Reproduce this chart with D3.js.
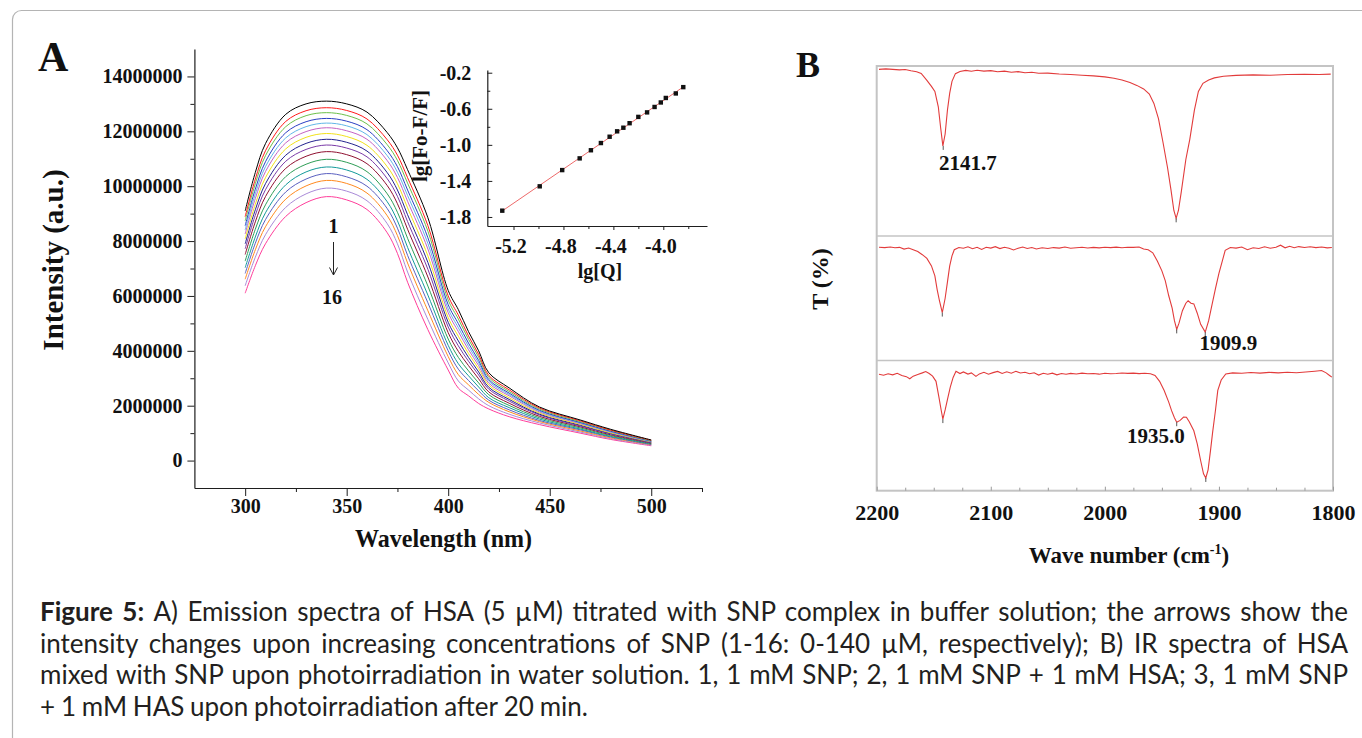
<!DOCTYPE html>
<html>
<head>
<meta charset="utf-8">
<script src="https://cdn.jsdelivr.net/npm/d3@7"></script>
<style>
  body { margin: 0; background: #fff; }
  svg { display: block; }
</style>
</head>
<body>
<svg id="fig" width="1362" height="738"></svg>
<script>

// ---- Panel A data: emission spectra (intensity in 10^6 a.u.)
const wavelengths = [300, 305, 310, 320, 330, 340, 350, 360, 370, 375, 380, 390, 400, 405, 410, 415, 420, 430, 445, 465, 480, 500];
const emission = [
    [9.1, 10.5, 11.55, 12.62, 13.0, 13.1, 13.0, 12.7, 11.95, 11.4, 10.6, 8.85, 6.2, 5.5, 4.7, 4.0, 3.2, 2.65, 1.95, 1.48, 1.14, 0.75],
    [8.89, 10.26, 11.29, 12.36, 12.75, 12.86, 12.76, 12.45, 11.69, 11.13, 10.31, 8.56, 6.0, 5.3, 4.54, 3.87, 3.1, 2.58, 1.91, 1.45, 1.11, 0.74],
    [8.74, 10.09, 11.11, 12.17, 12.57, 12.68, 12.58, 12.27, 11.51, 10.94, 10.11, 8.36, 5.85, 5.16, 4.42, 3.77, 3.03, 2.52, 1.87, 1.42, 1.1, 0.72],
    [8.56, 9.89, 10.89, 11.95, 12.35, 12.47, 12.37, 12.06, 11.29, 10.71, 9.86, 8.12, 5.68, 4.99, 4.28, 3.65, 2.95, 2.46, 1.83, 1.39, 1.07, 0.71],
    [8.41, 9.72, 10.71, 11.76, 12.17, 12.3, 12.2, 11.88, 11.11, 10.51, 9.66, 7.91, 5.53, 4.84, 4.16, 3.56, 2.89, 2.41, 1.80, 1.37, 1.05, 0.70],
    [8.26, 9.55, 10.53, 11.58, 11.99, 12.13, 12.02, 11.71, 10.93, 10.32, 9.45, 7.71, 5.39, 4.70, 4.04, 3.46, 2.82, 2.36, 1.77, 1.35, 1.04, 0.69],
    [8.08, 9.34, 10.31, 11.36, 11.78, 11.92, 11.81, 11.49, 10.71, 10.09, 9.21, 7.46, 5.21, 4.53, 3.90, 3.35, 2.75, 2.29, 1.73, 1.32, 1.01, 0.68],
    [7.9, 9.14, 10.09, 11.13, 11.56, 11.71, 11.6, 11.28, 10.49, 9.86, 8.96, 7.22, 5.04, 4.36, 3.76, 3.23, 2.67, 2.23, 1.69, 1.29, 0.99, 0.67],
    [7.72, 8.94, 9.87, 10.91, 11.34, 11.5, 11.39, 11.07, 10.27, 9.63, 8.71, 6.97, 4.87, 4.18, 3.62, 3.12, 2.6, 2.17, 1.66, 1.26, 0.97, 0.65],
    [7.51, 8.7, 9.62, 10.65, 11.09, 11.26, 11.15, 10.82, 10.02, 9.36, 8.43, 6.69, 4.66, 3.98, 3.46, 2.98, 2.5, 2.09, 1.61, 1.23, 0.94, 0.64],
    [7.27, 8.43, 9.32, 10.35, 10.8, 10.98, 10.87, 10.53, 9.72, 9.05, 8.1, 6.36, 4.43, 3.76, 3.27, 2.83, 2.4, 2.01, 1.56, 1.19, 0.91, 0.62],
    [7.03, 8.15, 9.03, 10.05, 10.52, 10.7, 10.59, 10.25, 9.43, 8.74, 7.77, 6.03, 4.2, 3.53, 3.09, 2.68, 2.29, 1.93, 1.51, 1.15, 0.88, 0.61],
    [6.82, 7.92, 8.78, 9.79, 10.26, 10.46, 10.34, 10.0, 9.18, 8.47, 7.48, 5.75, 4.0, 3.33, 2.92, 2.54, 2.2, 1.85, 1.46, 1.12, 0.86, 0.59],
    [6.61, 7.68, 8.52, 9.53, 10.01, 10.21, 10.1, 9.75, 8.92, 8.2, 7.2, 5.46, 3.79, 3.13, 2.76, 2.41, 2.12, 1.78, 1.42, 1.08, 0.83, 0.58],
    [6.37, 7.41, 8.23, 9.23, 9.72, 9.93, 9.82, 9.47, 8.63, 7.9, 6.87, 5.14, 3.56, 2.9, 2.57, 2.25, 2.0, 1.69, 1.37, 1.04, 0.80, 0.56],
    [6.1, 7.1, 7.9, 8.9, 9.4, 9.62, 9.5, 9.15, 8.3, 7.55, 6.5, 4.77, 3.3, 2.64, 2.36, 2.08, 1.88, 1.6, 1.31, 1.0, 0.77, 0.54]
];
const curveColors = ['#000000', '#ff1a1a', '#6cc04a', '#2b3fc4', '#62b6e8', '#c462c4', '#f2e21a', '#23238e',
                     '#7a3aa8', '#8f1030', '#2f9e57', '#139a9a', '#5a5fc0', '#ff8a1f', '#a98ad8', '#ff3d9a'];
const intensityTicks = [0, 2, 4, 6, 8, 10, 12, 14];
const intensityMinor = [1, 3, 5, 7, 9, 11, 13];
const wavelengthTicks = [300, 350, 400, 450, 500];
const wavelengthMinor = [325, 375, 425, 475, 525];

// ---- Inset data: lg[Q] vs lg[(Fo-F)/F]
const lgQ = [-5.29, -4.99, -4.81, -4.67, -4.58, -4.50, -4.43, -4.37, -4.32, -4.27, -4.20, -4.13, -4.07, -4.02, -3.98, -3.90, -3.84];
const lgF = [-1.73, -1.46, -1.28, -1.15, -1.06, -0.98, -0.91, -0.85, -0.81, -0.76, -0.69, -0.64, -0.58, -0.53, -0.48, -0.43, -0.36];
const lgQTicks = [-5.2, -4.8, -4.4, -4.0];
const lgQMinor = [-5.0, -4.6, -4.2, -3.8];
const lgFTicks = [-1.8, -1.4, -1.0, -0.6, -0.2];
const lgFMinor = [-1.6, -1.2, -0.8, -0.4];

// ---- Panel B data: IR spectra [wavenumber, relative T within its band]
const irSNP = [[2198, 98.0], [2192, 98.3], [2186, 98.0], [2180, 97.7], [2175, 97.9], [2170, 97.2], [2165, 96.6], [2161, 95.6],
    [2156, 91.5], [2152, 88.0], [2149, 85.0], [2146, 76.0], [2144, 64.0], [2142, 53.0], [2140, 60.0], [2138, 74.0], [2136, 84.0],
    [2134, 91.0], [2131, 95.5], [2127, 96.8], [2122, 97.4], [2117, 96.9], [2112, 97.5], [2106, 97.0], [2100, 97.3], [2094, 96.6],
    [2088, 97.0], [2082, 96.3], [2076, 96.7], [2070, 96.0], [2064, 96.3], [2058, 95.7], [2050, 95.8], [2040, 95.3], [2030, 95.0],
    [2020, 94.6], [2010, 94.2], [2000, 93.6], [1992, 92.8], [1985, 91.8], [1978, 90.3], [1972, 88.6], [1966, 86.5], [1961, 83.5],
    [1957, 78.0], [1953, 69.0], [1949, 55.0], [1945, 40.0], [1942, 27.0], [1939.5, 15.0], [1937.5, 10.4], [1935.5, 15.0],
    [1933, 26.0], [1929, 45.0], [1925.5, 57.0], [1921.5, 74.0], [1918, 85.0], [1914, 89.8], [1909, 91.8], [1904, 93.0],
    [1896, 94.0], [1885, 94.5], [1870, 94.8], [1855, 94.6], [1840, 95.0], [1825, 95.1], [1812, 95.0], [1802, 95.2]];
const irSNPHSA = [[2198, 91.0], [2193, 90.7], [2188, 91.2], [2184, 90.6], [2180, 90.9], [2176, 89.5], [2172, 90.3], [2168, 89.0],
    [2164, 87.5], [2160, 85.0], [2156, 82.0], [2152, 76.0], [2149, 68.0], [2147, 57.0], [2145, 48.0], [2142.5, 38.5], [2140, 50.0],
    [2138, 63.0], [2136, 76.0], [2134, 84.0], [2132, 89.0], [2128, 90.8], [2124, 90.2], [2120, 91.3], [2116, 89.8], [2112, 90.9],
    [2108, 89.2], [2104, 91.0], [2100, 90.3], [2096, 91.4], [2092, 89.9], [2088, 91.0], [2084, 90.1], [2080, 88.8], [2076, 90.2],
    [2072, 91.2], [2068, 90.0], [2064, 90.8], [2060, 89.6], [2055, 90.6], [2050, 90.0], [2045, 90.7], [2040, 90.3], [2035, 91.1],
    [2030, 90.2], [2025, 90.6], [2020, 91.0], [2015, 90.4], [2010, 90.9], [2005, 90.5], [2000, 91.0], [1995, 90.7], [1990, 91.1],
    [1985, 90.6], [1980, 91.0], [1975, 90.9], [1970, 91.2], [1966, 89.5], [1962, 89.0], [1958, 86.5], [1954, 80.0], [1950, 72.0],
    [1947, 64.0], [1944, 52.0], [1941, 42.0], [1939, 32.0], [1937, 25.0], [1935, 30.0], [1932, 40.0], [1929, 46.0], [1927, 48.0],
    [1924.5, 46.0], [1922, 45.5], [1919, 38.0], [1916, 29.0], [1912, 22.8], [1909, 32.0], [1906, 45.0], [1903, 58.0], [1900, 70.0],
    [1897, 80.0], [1894.5, 88.5], [1890, 90.8], [1885, 90.3], [1880, 91.2], [1875, 89.0], [1870, 90.5], [1865, 90.0], [1860, 91.3],
    [1855, 90.2], [1850, 91.0], [1846, 92.6], [1842, 90.5], [1838, 91.8], [1834, 90.6], [1830, 91.5], [1825, 90.8], [1820, 91.4],
    [1815, 90.7], [1810, 91.2], [1805, 90.5], [1801, 90.8]];
const irSNPHSAirr = [[2198, 89.5], [2194, 88.7], [2190, 89.8], [2186, 89.0], [2182, 90.2], [2178, 88.5], [2174, 87.6], [2171, 86.0],
    [2168, 88.0], [2164, 89.3], [2160, 90.5], [2157, 91.5], [2154, 90.0], [2151, 88.0], [2148, 84.0], [2145.5, 72.0], [2143.5, 62.0],
    [2142, 55.0], [2140, 62.0], [2138, 70.0], [2135.5, 79.5], [2133, 87.0], [2130.5, 91.8], [2127, 90.0], [2124, 91.2], [2120, 89.6],
    [2117, 90.5], [2113, 87.8], [2110, 89.7], [2106, 90.9], [2102, 89.5], [2098, 90.7], [2094, 91.6], [2090, 90.0], [2086, 91.3],
    [2082, 90.2], [2078, 91.7], [2074, 90.4], [2070, 91.0], [2066, 89.8], [2062, 90.6], [2058, 88.8], [2054, 90.2], [2050, 89.5],
    [2046, 90.3], [2042, 89.0], [2038, 90.0], [2034, 89.4], [2030, 90.1], [2025, 89.6], [2020, 90.3], [2015, 89.8], [2010, 90.0],
    [2005, 89.5], [2000, 90.2], [1995, 89.8], [1990, 90.0], [1985, 90.4], [1980, 90.1], [1975, 90.3], [1970, 89.9], [1965, 90.2],
    [1960, 89.8], [1956, 88.5], [1952, 84.0], [1948, 77.0], [1944, 68.0], [1941.5, 61.5], [1939, 56.0], [1937, 52.6], [1934, 54.0],
    [1931, 56.5], [1928.5, 56.4], [1926, 53.0], [1922, 46.0], [1919, 36.0], [1916, 23.0], [1913.5, 13.0], [1911.5, 9.8],
    [1909.5, 16.0], [1907.5, 30.0], [1905.5, 45.0], [1903, 62.0], [1901, 77.0], [1898, 85.0], [1894, 89.7], [1888, 90.5],
    [1880, 90.2], [1872, 90.8], [1864, 90.3], [1856, 90.9], [1848, 90.5], [1840, 91.0], [1832, 90.6], [1824, 91.2], [1816, 91.8],
    [1810, 92.3], [1806, 90.5], [1803, 88.5], [1801, 87.2]];
const irPeaks = [[0, 2141.7, 53.0], [0, 1937.5, 10.4], [1, 2142.5, 38.5], [1, 1937, 25.0],
                 [1, 1912, 22.8], [2, 2142, 55.0], [2, 1937, 52.6], [2, 1911.5, 9.8]];
const waveTicks = [2200, 2100, 2000, 1900, 1800];
const waveMinor = [2175, 2150, 2125, 2075, 2050, 2025, 1975, 1950, 1925, 1875, 1850, 1825];

const captionLines = [
    ['Figure 5:', ' A) Emission spectra of HSA (5 µM) titrated with SNP complex in buffer solution; the arrows show the'],
    [null, 'intensity changes upon increasing concentrations of SNP (1-16: 0-140 µM, respectively); B) IR spectra of HSA'],
    [null, 'mixed with SNP upon photoirradiation in water solution. 1, 1 mM SNP; 2, 1 mM SNP + 1 mM HSA; 3, 1 mM SNP'],
    [null, '+ 1 mM HAS upon photoirradiation after 20 min.']
];

// Constants
const SERIF = '"Liberation Serif", "Times New Roman", serif';
const SANS = 'Lato, "Noto Sans", sans-serif';
const AXIS_COLOR = '#1e1e1e';

const svg = d3.select('#fig');

// outer frame
svg.append('rect')
    .attr('x', 12.5).attr('y', 10.5)
    .attr('width', 1420).attr('height', 800)
    .attr('rx', 9)
    .attr('fill', 'none')
    .attr('stroke', '#b4b4b4')
    .attr('stroke-width', 1.2);

function styleAxis(g, size, color) {
    g.select('.domain').attr('stroke', color).attr('stroke-width', 1.2);
    g.selectAll('.tick line').attr('stroke', color).attr('stroke-width', 1);
    g.selectAll('.tick text')
        .attr('font-family', SERIF)
        .attr('font-weight', 'bold')
        .attr('font-size', size)
        .attr('fill', '#111');
}

function boldText(parent, x, y, str, size, anchor) {
    return parent.append('text')
        .attr('x', x).attr('y', y)
        .attr('font-family', SERIF)
        .attr('font-weight', 'bold')
        .attr('font-size', size)
        .attr('text-anchor', anchor || 'start')
        .attr('fill', '#111')
        .text(str);
}

const minusFix = (g) => g.selectAll('.tick text').text(function () { return this.textContent.replace('−', '-'); });

// ================= Panel A =================
const xA = d3.scaleLinear().domain([275, 525]).range([194.4, 702]);
const yA = d3.scaleLinear().domain([-1, 15]).range([488, 49]);
const gA = svg.append('g');

const specLine = d3.line()
    .x((d, i) => xA(wavelengths[i]))
    .y((d) => yA(d))
    .curve(d3.curveCatmullRom.alpha(0.5));

gA.append('g')
    .selectAll('path')
    .data(emission.map((d, i) => ({ v: d, i })).reverse())
    .join('path')
    .attr('d', (d) => specLine(d.v))
    .attr('fill', 'none')
    .attr('stroke', (d) => curveColors[d.i])
    .attr('stroke-width', 1);

// y axis
gA.append('g')
    .attr('transform', 'translate(194.4,0)')
    .call(d3.axisLeft(yA).tickValues(intensityMinor).tickSize(4).tickSizeOuter(0).tickFormat(''))
    .call((g) => g.select('.domain').remove())
    .call((g) => styleAxis(g, 20, AXIS_COLOR));
gA.append('g')
    .attr('transform', 'translate(194.4,0)')
    .call(d3.axisLeft(yA).tickValues(intensityTicks).tickSize(7).tickSizeOuter(0).tickPadding(5)
        .tickFormat((d) => d3.format('d')(d * 1e6)))
    .call((g) => styleAxis(g, 20, AXIS_COLOR));

// x axis
gA.append('g')
    .attr('transform', 'translate(0,488)')
    .call(d3.axisBottom(xA).tickValues(wavelengthMinor).tickSize(4).tickSizeOuter(0).tickFormat(''))
    .call((g) => g.select('.domain').remove())
    .call((g) => styleAxis(g, 20, AXIS_COLOR));
gA.append('g')
    .attr('transform', 'translate(0,488)')
    .call(d3.axisBottom(xA).tickValues(wavelengthTicks).tickSize(8).tickSizeOuter(0).tickPadding(3))
    .call((g) => styleAxis(g, 20, AXIS_COLOR));

boldText(gA, 443.6, 547, 'Wavelength (nm)', 26, 'middle').attr('textLength', 177).attr('lengthAdjust', 'spacingAndGlyphs');
boldText(gA, 0, 0, 'Intensity (a.u.)', 29, 'middle').attr('transform', 'translate(63,260) rotate(-90)');
boldText(gA, 38, 71, 'A', 42);

// 1 -> 16 arrow
boldText(gA, 333.5, 233, '1', 20, 'middle');
gA.append('line').attr('x1', 333.5).attr('x2', 333.5).attr('y1', 242).attr('y2', 275)
    .attr('stroke', '#222').attr('stroke-width', 1);
gA.append('path').attr('d', 'M329.5,267.5 L333.5,275 L337.5,267.5')
    .attr('fill', 'none').attr('stroke', '#222').attr('stroke-width', 1);
boldText(gA, 332, 304, '16', 20, 'middle');

// ---- Inset
const xI = d3.scaleLinear().domain([-5.41, -3.65]).range([487.3, 707]);
const yI = d3.scaleLinear().domain([-1.9, -0.17]).range([226, 70]);
const gI = svg.append('g');

gI.append('g')
    .attr('transform', 'translate(487.3,0)')
    .call(d3.axisLeft(yI).tickValues(lgFMinor).tickSize(-3).tickSizeOuter(0).tickFormat(''))
    .call((g) => g.select('.domain').remove())
    .call((g) => styleAxis(g, 20, AXIS_COLOR));
gI.append('g')
    .attr('transform', 'translate(487.3,0)')
    .call(d3.axisLeft(yI).tickValues(lgFTicks).tickSize(-5).tickSizeOuter(0).tickPadding(16)
        .tickFormat(d3.format('.1f')))
    .call((g) => styleAxis(g, 20, AXIS_COLOR))
    .call(minusFix);

gI.append('g')
    .attr('transform', 'translate(0,226)')
    .call(d3.axisBottom(xI).tickValues(lgQMinor).tickSize(3).tickSizeOuter(0).tickFormat(''))
    .call((g) => g.select('.domain').remove())
    .call((g) => styleAxis(g, 20, AXIS_COLOR));
gI.append('g')
    .attr('transform', 'translate(0,226)')
    .call(d3.axisBottom(xI).tickValues(lgQTicks).tickSize(4).tickSizeOuter(0).tickPadding(9)
        .tickFormat(d3.format('.1f')))
    .call((g) => styleAxis(g, 20, AXIS_COLOR))
    .call(minusFix)
    .call((g) => g.selectAll('.tick text').attr('dx', -3));

// linear fit
const meanX = d3.mean(lgQ), meanY = d3.mean(lgF);
const slope = d3.sum(lgQ, (q, i) => (q - meanX) * (lgF[i] - meanY)) / d3.sum(lgQ, (q) => (q - meanX) ** 2);
const icpt = meanY - slope * meanX;
const [qMin, qMax] = d3.extent(lgQ);
gI.append('line')
    .attr('x1', xI(qMin)).attr('y1', yI(icpt + slope * qMin))
    .attr('x2', xI(qMax)).attr('y2', yI(icpt + slope * qMax))
    .attr('stroke', '#ee6a6a').attr('stroke-width', 1);
gI.selectAll('rect.pt')
    .data(lgQ)
    .join('rect')
    .attr('x', (q) => xI(q) - 2.2)
    .attr('y', (q, i) => yI(lgF[i]) - 2.2)
    .attr('width', 4.4).attr('height', 4.4)
    .attr('fill', '#111');

boldText(gI, 600, 278, 'lg[Q]', 20, 'middle');
boldText(gI, 0, 0, 'lg[Fo-F/F]', 21, 'middle').attr('transform', 'translate(427,136) rotate(-90)');

// ================= Panel B =================
const xB = d3.scaleLinear().domain([2200, 1800]).range([876.7, 1333]);
const bands = [[236, 66], [360.5, 236], [490.7, 360.5]];   // [bottom, top] of each trace band
const yBands = bands.map((b) => d3.scaleLinear().domain([0, 100]).range(b));
const traces = [irSNP, irSNPHSA, irSNPHSAirr];
const gB = svg.append('g');
const FRAME = '#c4c4c4';

gB.append('rect')
    .attr('x', 876.7).attr('y', 66)
    .attr('width', 1333 - 876.7).attr('height', 490.7 - 66)
    .attr('fill', 'none').attr('stroke', FRAME).attr('stroke-width', 2);
[236, 360.5].forEach((y) => {
    gB.append('line').attr('x1', 876.7).attr('x2', 1333).attr('y1', y).attr('y2', y)
        .attr('stroke', FRAME).attr('stroke-width', 1.6);
});

gB.append('g')
    .attr('transform', 'translate(0,490.7)')
    .call(d3.axisBottom(xB).tickValues(waveMinor).tickSize(-3).tickSizeOuter(0).tickFormat(''))
    .call((g) => g.select('.domain').remove())
    .call((g) => styleAxis(g, 21, '#9a9a9a'));
gB.append('g')
    .attr('transform', 'translate(0,490.7)')
    .call(d3.axisBottom(xB).tickValues(waveTicks).tickSize(-4).tickSizeOuter(0).tickPadding(14)
        .tickFormat(d3.format('d')))
    .call((g) => g.select('.domain').remove())
    .call((g) => styleAxis(g, 22, '#9a9a9a'));

traces.forEach((tr, k) => {
    const ln = d3.line().x((d) => xB(d[0])).y((d) => yBands[k](d[1]));
    gB.append('path')
        .attr('d', ln(tr))
        .attr('fill', 'none')
        .attr('stroke', '#e23b3b')
        .attr('stroke-width', 1.1);
});

irPeaks.forEach(([k, wn, v]) => {
    const y = yBands[k](v);
    gB.append('line').attr('x1', xB(wn)).attr('x2', xB(wn)).attr('y1', y).attr('y2', y + 4)
        .attr('stroke', '#555').attr('stroke-width', 1);
});
boldText(gB, 939, 170, '2141.7', 21);
boldText(gB, 1199.5, 350, '1909.9', 21);
boldText(gB, 1127, 442.5, '1935.0', 21);

boldText(gB, 796, 77, 'B', 36);
boldText(gB, 0, 0, 'T (%)', 24, 'middle').attr('transform', 'translate(828,279) rotate(-90)');
const wt = boldText(gB, 1129, 563, 'Wave number (cm', 23, 'middle');
wt.append('tspan').attr('font-size', 14).attr('dy', -9).text('-1');
wt.append('tspan').attr('dy', 9).text(')');

// ================= Caption =================
const capX = 40, capRight = 1348;
const capBase = [621, 652.5, 684, 715.5];
captionLines.forEach(([bold, rest], li) => {
    const t = svg.append('text')
        .attr('y', capBase[li])
        .attr('font-family', SANS)
        .attr('font-size', 26)
        .attr('fill', '#231f20');
    const words = [];
    if (bold) bold.split(' ').forEach((w) => words.push({ w, b: true }));
    rest.trim().split(' ').forEach((w) => words.push({ w, b: false }));
    const spans = words.map((d) => t.append('tspan')
        .attr('font-weight', d.b ? 'bold' : 'normal')
        .text(d.w));
    const widths = spans.map((s) => s.node().getComputedTextLength());
    let gap = 5.8;
    if (li < 3) gap = (capRight - capX - d3.sum(widths)) / (words.length - 1);
    let x = capX;
    spans.forEach((s, i) => {
        s.attr('x', x);
        x += widths[i] + gap;
    });
});

</script>
</body>
</html>
